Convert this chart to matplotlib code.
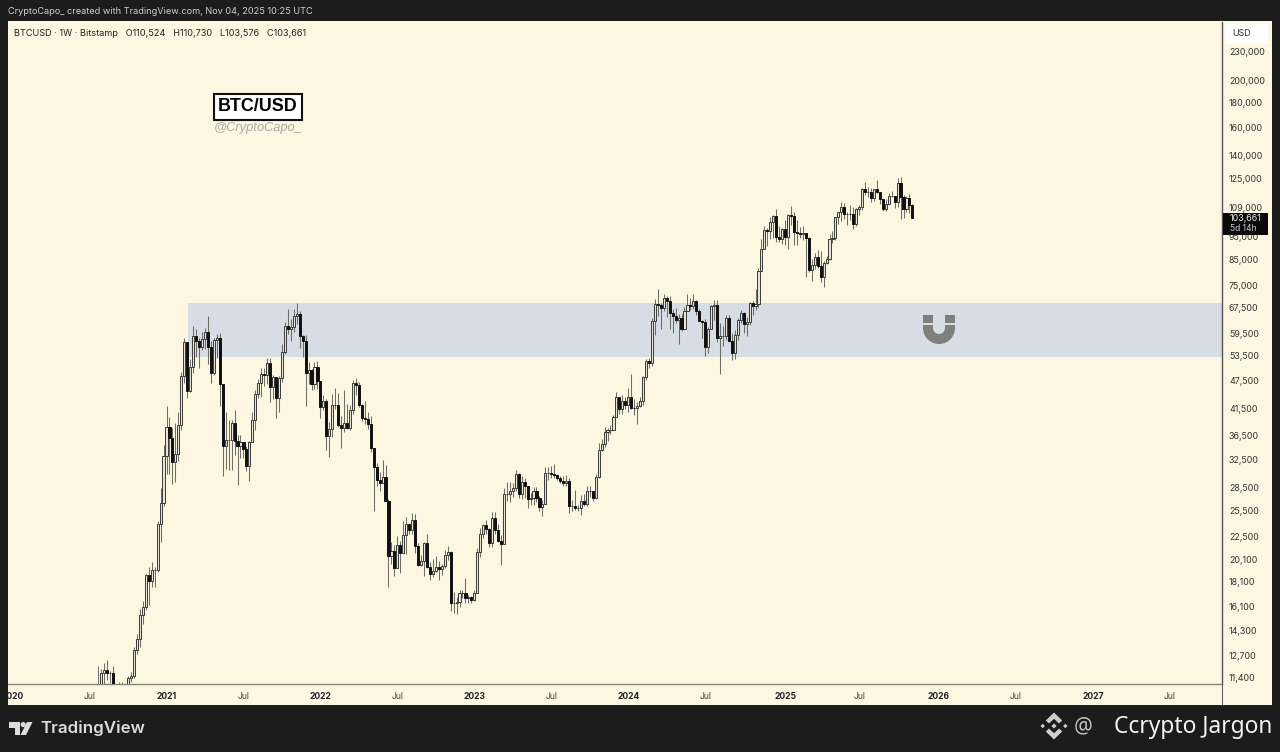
import matplotlib
matplotlib.use("Agg")
import matplotlib.pyplot as plt
import matplotlib.dates as mdates
from matplotlib.patches import Rectangle, Polygon, Wedge, Circle
from matplotlib.transforms import Affine2D
import numpy as np
import pandas as pd

plt.rcParams['font.family'] = ['Inter', 'DejaVu Sans']

# ---------- weekly candles ----------
first_open = 9900
closes_2020 = [11050,11650,11850,11650,11700,10250,10680,11080,10770,10660,11380,11500,13040,13770,15440,16050,18690,18180,19150,19170,23840,26460,33000]
highs_2020 = [12090,11900,12250,12450,11800,12070,10900,11200,11180,10950,11500,11730,13200,14080,15900,16500,18800,19400,19900,19400,24250,28400,34800]
lows_2020 = [9850,10950,11100,11300,11150,9950,9850,10200,10150,10400,10500,11200,11400,12800,13200,14800,15800,16200,17600,17600,19000,21900,26000]

closes_2021 = [38000,36000,32100,33400,38400,48500,57100,45100,50800,58900,57400,55700,58000,59900,55900,49200,57800,58200,46700,34700,35700,35700,38700,35500,34700,35300,34250,31500,35350,39400,44600,47000,49000,48800,51700,46000,48300,43600,48200,54600,61700,60900,61300,64900,65500,58700,57300,49300,50000,46700,50700,47300]
highs_2021 = [42000,39800,37900,38700,40900,49500,58300,52500,52600,61700,60900,58400,60000,61200,64800,57500,58400,59400,59600,46600,40900,39400,39400,41300,36500,36600,35100,34700,35500,40900,45300,47900,50500,50400,52900,52900,48800,48200,48500,56500,62800,67000,63700,67000,69000,66300,59100,59100,51900,50200,52000,52100]
lows_2021 = [30400,30400,28900,29200,32300,37400,47000,43700,44900,49300,53300,50400,54900,55400,51500,47000,48800,52900,42100,30000,31100,31000,31000,33300,28800,32700,32700,30800,29300,36400,37500,43700,43900,46300,46700,42800,43400,39600,40800,47100,53900,59500,57400,60100,62300,55600,53300,42000,46700,45500,45600,45700]

closes_2022 = [41800,43100,36400,37700,42300,42200,38400,37900,38800,37800,41300,47000,46500,42200,39700,39500,38600,34300,31300,29450,29000,29900,26600,20500,21000,19300,21600,20800,22600,23900,23200,24300,21500,19600,20000,21800,19400,18800,19050,19400,19250,19550,20600,20900,16300,16300,16400,17100,17100,16700,16840,16550]
highs_2022 = [47500,44400,43500,38900,44500,45800,44700,40000,45400,42500,42300,47600,48200,47200,42400,43000,40800,40000,34200,32000,30600,32400,31700,26900,21900,21600,22500,22000,24200,24700,24000,25200,25000,21800,20600,21900,22800,19900,20200,20500,20000,19700,21100,21500,21000,17200,16800,17400,17400,18400,17000,16900]
lows_2022 = [39700,41300,34000,32900,36300,41500,38000,34300,37200,37600,37500,40500,44300,41900,39200,38600,37600,33700,25400,28600,28000,29300,26600,17600,19700,18600,19300,18900,20800,20700,22700,22700,20800,19500,19500,18600,19300,18200,18500,19000,18200,18700,19300,20100,15700,15600,15500,16000,16700,16300,16300,16300]

closes_2023 = [17100,20900,22700,23700,23300,21800,24600,23200,22000,21700,27500,27500,28000,28300,30400,27600,29250,28700,26900,27100,28000,27100,25900,26300,30500,30500,30300,30200,29800,29300,29000,29300,26000,26000,25800,25800,26600,26300,27950,27900,27000,29900,34100,35000,37100,37400,37450,39900,44000,41400,43000,42300]
highs_2023 = [17400,21300,23400,23900,24300,23400,25300,25300,23900,22600,28400,29200,29200,29000,31000,30500,30000,29800,28000,27700,28500,28500,27300,26800,31400,31400,31500,31800,30400,30100,30000,30200,29700,26800,28100,26100,27400,27500,28600,28600,28000,30300,35200,35900,38000,37900,38400,40200,45000,43500,44300,43800]
lows_2023 = [16500,17300,20400,22300,22700,21400,21400,22700,21900,19600,21900,26600,26500,27200,28000,27100,26900,27000,25800,26100,26100,26500,25400,24800,26300,29500,29700,29700,29500,29000,28700,28700,25200,25400,25500,25400,24900,26000,26000,27200,26600,26900,29700,33900,34500,35600,36800,37500,39900,40500,40500,41500]

closes_2024 = [43900,41700,41600,42000,43000,48300,52200,51700,63100,68500,68300,67200,70600,69700,65700,64900,63400,64000,60900,66300,68400,67800,69700,66200,63300,62800,55900,60700,68000,68100,58400,58700,58900,64000,57300,54100,59100,63400,65800,62200,62900,68900,68000,68700,80200,89100,97900,97500,101500,104500,94700,93600,98300]
highs_2024 = [45900,49000,43500,42900,43900,48600,52800,52900,64000,70100,73800,68900,71800,71300,71200,66900,67200,65500,65400,67700,71900,70600,71900,70000,66900,63400,63800,61400,68400,70000,70000,62700,61800,65000,65000,59800,60600,64100,66500,66000,64400,69400,69500,73600,81500,93500,99800,98700,104000,105000,108300,99800,98900]
lows_2024 = [40800,41500,40200,38500,41900,42300,47600,50500,50900,59000,64600,60800,66400,64500,60800,59600,62500,56500,60200,60700,66500,66600,67100,65000,63100,58400,53500,54200,62400,63400,57100,49000,56100,57800,57200,52500,52600,57600,62700,59800,58900,62100,65100,66800,67500,80200,90800,90800,93500,94200,92200,92500,91300]

closes_2025 = [94500,105000,104700,97000,96500,96000,96200,94200,80700,82600,86000,82400,78200,83700,85200,93700,94300,104000,106500,109000,105700,105700,105600,100900,108400,109200,119000,117200,117600,113800,119000,117500,113500,108300,111000,115300,115300,112100,122600,114800,108400,114000,110524,103661]
highs_2025 = [102700,105800,109900,106500,102500,99400,99500,96500,94400,85300,87500,88800,88500,84300,86400,95800,97400,104300,106700,111900,111200,106800,110300,109000,108500,110500,119400,123200,120000,119700,119300,124500,117600,113500,113400,116800,117900,113800,125500,126200,115900,115400,116400,110730]
lows_2025 = [91200,89300,100100,91200,91200,94100,93300,78200,80000,76600,81100,81600,76300,74500,83100,84700,91900,93300,100800,102100,103100,100400,102600,98200,99800,105100,107500,115800,114700,112000,112600,116800,110800,107300,107300,110600,114700,108700,109000,103000,103500,106800,106000,103576]

closes = closes_2020 + closes_2021 + closes_2022 + closes_2023 + closes_2024 + closes_2025
highs = highs_2020 + highs_2021 + highs_2022 + highs_2023 + highs_2024 + highs_2025
lows = lows_2020 + lows_2021 + lows_2022 + lows_2023 + lows_2024 + lows_2025
first_week = "2020-07-27"

zone_low, zone_high = 53200, 68900
zone_start = "2021-02-25"

price_ticks = [230000,200000,180000,160000,140000,125000,109000,95000,85000,75000,67500,59500,53500,47500,41500,36500,32500,28500,25500,22500,20100,18100,16100,14300,12700,11400]
time_ticks = ["2020-01-06","2020-07-06","2021-01-04","2021-07-05","2022-01-03","2022-07-04","2023-01-02","2023-07-03","2024-01-01","2024-07-01","2025-01-06","2025-06-30","2026-01-05","2026-07-06","2027-01-04","2027-07-05"]
time_labels = ["2020","Jul","2021","Jul","2022","Jul","2023","Jul","2024","Jul","2025","Jul","2026","Jul","2027","Jul"]

# ---------- colours ----------
DARK = "#1c1c1c"
PANEL = "#fdf6e1"
ZONE = "#d8dce5"

W, H = 1280, 752
fig = plt.figure(figsize=(12.8, 7.52), dpi=100, facecolor=DARK)
px = Affine2D().scale(1, -1).translate(0, H)

fig.add_artist(Rectangle((8, 21), 1264, 684, transform=px, fc=PANEL, ec="none", zorder=-1))

ax = fig.add_axes([8 / W, (H - 684) / H, 1214 / W, 662 / H])
ax.set_facecolor(PANEL)

weeks = pd.date_range(first_week, periods=len(closes), freq="7D")
t = mdates.date2num(weeks)
c = np.array(closes, float)
h = np.array(highs, float)
l = np.array(lows, float)
o = np.r_[first_open, c[:-1]]
up = c >= o

t0 = mdates.date2num(pd.Timestamp("2021-01-04"))
ax.set_xlim(t0 + 7 * (-53.55), t0 + 7 * 356.6)
ax.set_yscale("log")
ax.set_ylim(11076, 265400)

z0 = mdates.date2num(pd.Timestamp(zone_start))
ax.add_patch(Rectangle((z0, zone_low), ax.get_xlim()[1] - z0, zone_high - zone_low,
                       fc=ZONE, ec="none", zorder=1))

ax.vlines(t, l, h, color="#6e6e66", lw=0.75, zorder=2)
body_w = 5.0
ax.bar(t[up], np.abs(c - o)[up], bottom=np.minimum(o, c)[up], width=body_w,
       facecolor="#e9e4d6", edgecolor="#3a3a3a", linewidth=0.7, zorder=3)
ax.bar(t[~up], np.abs(c - o)[~up], bottom=np.minimum(o, c)[~up], width=body_w,
       facecolor="#111111", edgecolor="#111111", linewidth=0.7, zorder=3)

ax.yaxis.tick_right()
ax.set_yticks(price_ticks)
ax.set_yticklabels([f"{p:,}" for p in price_ticks])
ax.yaxis.set_minor_locator(matplotlib.ticker.NullLocator())
ax.yaxis.set_minor_formatter(matplotlib.ticker.NullFormatter())
ax.tick_params(axis="y", length=0, pad=5, labelsize=6.4, labelcolor="#333333")

ax.set_xticks(mdates.date2num(pd.to_datetime(time_ticks)))
ax.set_xticklabels(time_labels)
ax.tick_params(axis="x", length=0, pad=5.5, labelsize=6.2, labelcolor="#444444")
for lab in ax.get_xticklabels():
    if lab.get_text() != "Jul":
        lab.set_fontweight("bold")
        lab.set_color("#222222")

for s in ("top", "left"):
    ax.spines[s].set_visible(False)
ax.spines["bottom"].set_color("#85857a")
ax.spines["bottom"].set_linewidth(1.0)
ax.spines["right"].set_color("#555555")
ax.spines["right"].set_linewidth(1.0)

# frame pieces that sit over the axis labels
fig.add_artist(Rectangle((0, 0), 8, H, transform=px, fc=DARK, ec="none", zorder=5))
fig.add_artist(Rectangle((0, 705), W, 47, transform=px, fc=DARK, ec="none", zorder=5))
fig.add_artist(Rectangle((0, 0), W, 21, transform=px, fc=DARK, ec="none", zorder=5))
fig.add_artist(Rectangle((1221.6, 684), 1, 21, transform=px, fc="#555555", ec="none", zorder=5))

# header
fig.text(8, 12, "CryptoCapo_ created with TradingView.com, Nov 04, 2025 10:25 UTC", transform=px,
         color="#cfcfcf", fontsize=6.6, va="center", ha="left", zorder=6)
fig.text(14, 33, "BTCUSD · 1W · Bitstamp   O110,524   H110,730   L103,576   C103,661", transform=px,
         color="#222222", fontsize=6.6, va="center", ha="left", zorder=6)

# title stamp
fig.text(257.5, 106.5, "BTC/USD", transform=px, color="#000000", fontsize=12.9, fontweight="bold",
         family="Liberation Sans", va="center", ha="center", zorder=6,
         bbox=None)
fig.add_artist(Rectangle((213.5, 93.5), 88, 26, transform=px, fc="#ffffff", ec="#111111", lw=1.5, zorder=5))
fig.text(258, 128, "@CryptoCapo_", transform=px, color="#a9a9a3", fontsize=9.3, style="italic",
         family="Liberation Sans", va="center", ha="center", zorder=6)

# magnet icon
ICON = "#7f7f7b"
fig.add_artist(Rectangle((923, 315), 10, 14, transform=px, fc=ICON, ec="none", zorder=4))
fig.add_artist(Rectangle((945, 315), 10, 14, transform=px, fc=ICON, ec="none", zorder=4))
fig.add_artist(Wedge((939, 328), 16, 0, 180, width=10, transform=px, fc=ICON, ec="none", zorder=4))
fig.add_artist(Rectangle((923, 323.4), 10, 1.2, transform=px, fc=ZONE, ec="none", zorder=4.1))
fig.add_artist(Rectangle((945, 323.4), 10, 1.2, transform=px, fc=ZONE, ec="none", zorder=4.1))

# price scale header and last-price tag
fig.add_artist(Rectangle((1225, 24), 43, 20, transform=px, fc="#ffffff", ec="none", zorder=5))
fig.text(1241.5, 34, "USD", transform=px, color="#333333", fontsize=6.4, va="center", ha="center", zorder=6)
fig.add_artist(Rectangle((1223, 212.7), 45, 22.5, transform=px, fc="#0a0a0a", ec="none", zorder=5))
fig.text(1229.5, 218.5, f"{closes[-1]:,}", transform=px, color="#efefef", fontsize=6.4, va="center", ha="left", zorder=6)
fig.text(1229.5, 228.5, "5d 14h", transform=px, color="#c4c4c4", fontsize=6.2, va="center", ha="left", zorder=6)

# TradingView footer
FOOT = "#dcdcdc"
fig.add_artist(Polygon([(9, 722), (20, 722), (20, 735), (14.5, 735), (14.5, 727.5), (9, 727.5)], closed=True,
                       transform=px, fc=FOOT, ec="none", zorder=6))
fig.add_artist(Circle((23.2, 724.6), 2.6, transform=px, fc=FOOT, ec="none", zorder=6))
fig.add_artist(Polygon([(27, 722), (32.5, 722), (26, 735), (20.5, 735)], closed=True,
                       transform=px, fc=FOOT, ec="none", zorder=6))
fig.text(40, 728.5, "TradingView", transform=px, color=FOOT, fontsize=12.2, fontweight="semibold",
         va="center", ha="left", zorder=6)

# watermark
MARK = "#cfcfcf"
def diamond(cx, cy, r):
    fig.add_artist(Polygon([(cx - r, cy), (cx, cy - r), (cx + r, cy), (cx, cy + r)], closed=True,
                           transform=px, fc=MARK, ec="none", zorder=6))
diamond(1054, 726, 2.6)
diamond(1042.7, 726, 2.2)
diamond(1065.3, 726, 2.2)
fig.add_artist(Polygon([(1054, 712.5), (1062.2, 720.5), (1059, 723.5), (1054, 718.8), (1049, 723.5), (1045.8, 720.5)],
                       closed=True, transform=px, fc=MARK, ec="none", zorder=6))
fig.add_artist(Polygon([(1054, 739.5), (1062.2, 731.5), (1059, 728.5), (1054, 733.2), (1049, 728.5), (1045.8, 731.5)],
                       closed=True, transform=px, fc=MARK, ec="none", zorder=6))
fig.text(1083, 726.5, "@", transform=px, color="#bdbdbd", fontsize=15, family="Noto Sans",
         va="center", ha="center", zorder=6)
fig.text(1272, 727, "Ccrypto Jargon", transform=px, color="#f2f2f2", fontsize=16.4, family="Noto Sans",
         va="center", ha="right", zorder=6)

fig.savefig("out.png", dpi=100, facecolor=DARK)
